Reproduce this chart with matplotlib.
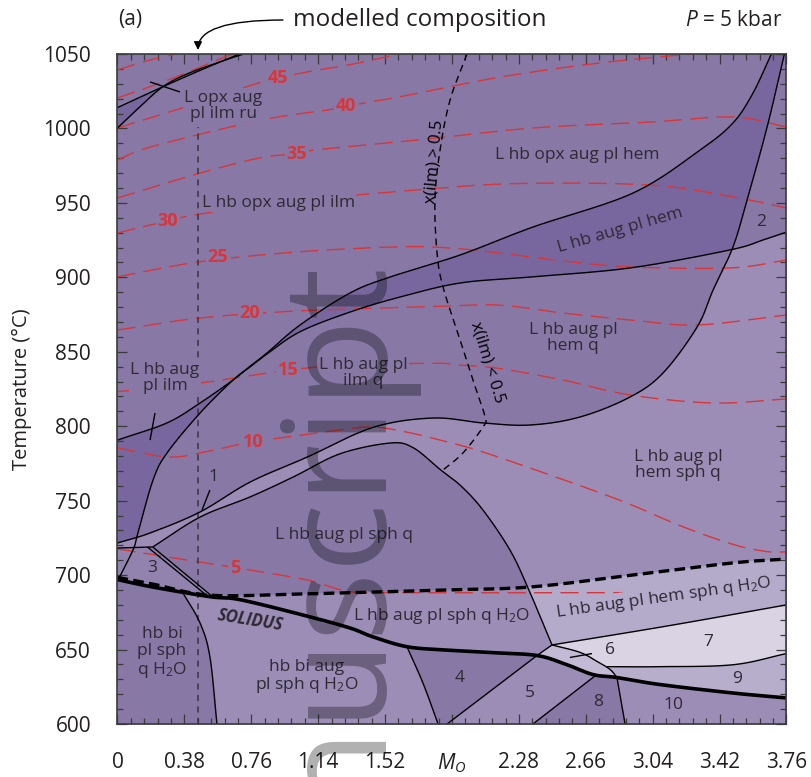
import numpy as np
import matplotlib
matplotlib.use("Agg")
import matplotlib.pyplot as plt

plt.rcParams['font.family'] = ['Open Sans', 'DejaVu Sans']
plt.rcParams['mathtext.fontset'] = 'custom'
plt.rcParams['mathtext.rm'] = 'Open Sans'
plt.rcParams['mathtext.it'] = 'Open Sans:italic'
plt.rcParams['mathtext.bf'] = 'Open Sans:bold'

# axes
x_ticks = [0, 0.38, 0.76, 1.14, 1.52, 1.90, 2.28, 2.66, 3.04, 3.42, 3.80]
x_ticklabels = ['0', '0.38', '0.76', '1.14', '1.52', '$M_O$', '2.28', '2.66', '3.04', '3.42', '3.76']
y_ticks = [600, 650, 700, 750, 800, 850, 900, 950, 1000, 1050]
modelled_x = 0.457

# phase boundaries as (M_O, T) pairs
solidus = [(0, 697), (0.2, 692), (0.525, 685.5), (0.696, 683.5), (1.06, 673), (1.32, 664.5),
           (1.451, 658.5), (1.644, 651.9), (1.85, 649.8), (2.12, 648), (2.383, 646),
           (2.553, 639.8), (2.701, 633.2), (2.837, 631.2), (3.081, 626.5), (3.496, 620.8),
           (3.8, 617.5)]
h2o_out = [(0, 698.5), (0.2, 694), (0.525, 686.5), (1.02, 687.3), (1.264, 688), (1.832, 690),
           (2.343, 692), (2.928, 700.1), (3.496, 708.2), (3.8, 710.8)]
line_ilm = [(0, 790.7), (0.281, 802.2), (0.469, 815.6), (0.656, 831), (0.75, 840),
            (0.849, 849.2), (1.037, 868), (1.321, 889.5), (1.548, 900.2), (1.946, 915),
            (2.360, 933.8), (2.928, 956.6), (3.309, 985.5), (3.496, 1003.7), (3.610, 1023.8),
            (3.706, 1048), (3.72, 1051)]
line_hem = [(0, 696), (0.088, 716.9), (0.116, 728.3), (0.202, 763.9), (0.281, 782),
            (0.469, 808.9), (0.656, 831), (0.75, 839.6), (0.849, 848.5), (1.037, 863.5),
            (1.321, 876.7), (1.605, 886.8), (1.946, 896.2), (2.343, 900.2), (2.911, 906.3),
            (3.479, 918.4), (3.667, 925.1), (3.8, 930.4)]
sph_in = [(0, 721.6), (0.185, 728.3), (0.469, 742.4), (0.753, 762.5), (1.078, 779.3),
          (1.451, 799.2), (1.792, 805.5), (2.076, 802.2), (2.343, 800.8), (2.627, 806.2),
          (2.911, 819.6), (3.099, 835.8), (3.292, 866.6), (3.383, 891.5), (3.496, 920.4),
          (3.576, 952), (3.690, 1001), (3.79, 1051)]
ilm_out = [(0.2, 718.9), (0.469, 739), (0.753, 752.5), (1.0, 766), (1.264, 781.5),
           (1.548, 788.7), (1.679, 785.6), (1.832, 771), (1.95, 760), (2.076, 743.7),
           (2.229, 716.9), (2.332, 691.3), (2.468, 653.1)]
opx_a = [(0, 1000.3), (0.127, 1014.5), (0.256, 1027.9), (0.395, 1036.6), (0.565, 1044),
         (0.713, 1049.9)]
opx_b = [(0, 1014), (0.256, 1027.9), (0.469, 1039), (0.69, 1049.9)]
bi_out = [(0.372, 688), (0.469, 667.8), (0.525, 645), (0.565, 600)]
line_4 = [(1.644, 651.9), (1.735, 627.5), (1.821, 600)]
line_45 = [(2.383, 646), (1.872, 600)]
line_58 = [(2.72, 633), (2.36, 600)]
line_810 = [(2.837, 631.2), (2.883, 600)]
arc_6 = [(2.468, 653.1), (2.627, 648.1), (2.724, 642), (2.798, 636.6), (2.837, 631.2)]
top_7 = [(2.468, 653.1), (3.121, 665.8), (3.8, 680)]
bot_7 = [(2.78, 638.5), (3.081, 638.5), (3.496, 639.8), (3.8, 647.3)]
field3_top = [(0, 718.2), (0.2, 718.9)]
field3_edge = [(0.17, 718.9), (0.51, 686)]
x_ilm = [(1.985, 1050), (1.889, 1019.1), (1.832, 985.5), (1.803, 952), (1.815, 916.3),
         (1.849, 893.5), (1.946, 857.9), (2.019, 831), (2.088, 806.2), (2.076, 799.5),
         (1.962, 782), (1.849, 770.6)]
leaders = [[(0.213, 808.9), (0.185, 790.7)], [(0.525, 757.2), (0.48, 743.7)],
           [(2.57, 644.7), (2.695, 647.3)], [(0.185, 1031.2), (0.355, 1024.5)]]

# melt isopleths (vol %)
iso_values = [5, 10, 15, 20, 25, 30, 35, 40, 45, 50, 55]
iso_lines = [
    [(0, 717.6), (0.667, 705), (0.753, 703.4), (1.078, 696.7), (1.32, 688.9), (1.6, 688.2), (2.93, 688.2)],
    [(0, 785.4), (0.281, 779.4), (0.469, 782), (0.753, 789.5), (0.883, 791.5), (1.264, 797.5),
     (1.451, 799.5), (1.644, 796), (1.832, 790.7), (2.076, 782.7), (2.570, 762.5), (2.894, 748.4),
     (3.2, 733), (3.5, 720.5), (3.689, 715.8), (3.8, 715.6)],
    [(0, 823.2), (0.469, 829), (1.133, 839.8), (1.775, 842.3), (1.946, 841), (2.156, 839),
     (2.531, 831), (2.911, 821), (3.383, 815.6), (3.8, 818.3)],
    [(0, 864.6), (0.469, 872.7), (1.037, 877.5), (1.775, 880.3), (2.156, 881.4), (2.531, 876),
     (2.911, 871.4), (3.292, 868), (3.8, 874.7)],
    [(0, 900.4), (0.469, 910.5), (1.037, 917.2), (1.6, 920.5), (1.889, 919.7), (2.156, 916.5),
     (2.531, 911), (2.911, 907), (3.479, 906.3), (3.8, 911.6)],
    [(0, 929.8), (0.287, 938), (0.469, 942.5), (1.037, 951.5), (1.70, 958.7), (2.269, 963),
     (3.025, 962), (3.496, 954), (3.8, 946.6)],
    [(0, 953.3), (0.469, 970), (0.82, 980.5), (1.02, 982.8), (1.12, 985.5), (1.70, 992.2),
     (2.36, 1000.3), (3.025, 1004.3), (3.496, 1007.7), (3.8, 1001)],
    [(0, 978.8), (0.2, 988), (0.82, 1005.7), (1.196, 1012.4), (1.30, 1015), (1.605, 1021.3),
     (2.173, 1034.5), (2.741, 1044), (3.252, 1050)],
    [(0, 1000.3), (0.4, 1015), (0.80, 1030.5), (0.913, 1033.9), (1.105, 1038.6), (1.31, 1042.6),
     (1.605, 1050)],
    [(0, 1020.4), (0.287, 1032.5), (0.61, 1048), (0.66, 1050)],
    [(0, 1039.3), (0.17, 1045.5), (0.33, 1050)],
]
iso_label_pos = [(0.667, 705), (0.77, 789.5), (0.97, 837.5), (0.753, 876), (0.571, 913.5),
                 (0.287, 938), (1.02, 983), (1.30, 1015), (0.913, 1034)]

MID = '#8778a6'
DARK = '#77679e'
LIGHT = '#9b8db6'
F3 = '#9183ae'
PALE = '#b4aaca'
PALE9 = '#b7aecc'
PALER = '#c3bbd5'
PALEST = '#d9d3e3'
RED = '#d8363a'
INK = '#2d2a33'

field_labels = [
    ("L opx aug\npl ilm ru", 0.60, 1015, 0, MID),
    ("L hb opx aug pl ilm", 0.913, 950, 0, MID),
    ("L hb opx aug pl hem", 2.61, 982, 0, MID),
    ("L hb aug pl hem", 2.855, 931.5, 16, DARK),
    ("2", 3.655, 937, 0, MID),
    ("L hb aug pl\nhem q", 2.587, 859.3, 0, MID),
    ("L hb aug\npl ilm", 0.27, 832.4, 0, MID),
    ("L hb aug pl\nilm q", 1.395, 835.7, 0, MID),
    ("L hb aug pl\nhem sph q", 3.185, 774, 0, LIGHT),
    ("1", 0.543, 766, 0, MID),
    ("L hb aug pl sph q", 1.287, 727, 0, MID),
    ("3", 0.196, 705, 0, F3),
    ("L hb aug pl sph q H$_2$O", 1.84, 672.6, 0, LIGHT),
    ("L hb aug pl hem sph q H$_2$O", 3.1, 684.6, 8, PALE),
    ("hb bi\npl sph\nq H$_2$O", 0.253, 647.7, 0, MID),
    ("hb bi aug\npl sph q H$_2$O", 1.075, 631.6, 0, LIGHT),
    ("4", 1.946, 631, 0, MID),
    ("5", 2.343, 621, 0, LIGHT),
    ("8", 2.73, 615, 0, MID),
    ("6", 2.80, 649.7, 0, PALEST),
    ("7", 3.355, 655, 0, PALEST),
    ("9", 3.52, 630, 0, PALE9),
    ("10", 3.155, 612.8, 0, LIGHT),
]


def smooth(c, n=16):
    # Catmull-Rom through the traced points
    p = np.asarray(c, dtype=float)
    if len(p) < 3:
        return p
    q = np.vstack([2 * p[0] - p[1], p, 2 * p[-1] - p[-2]])
    t = np.linspace(0, 1, n, endpoint=False)[:, None]
    out = []
    for i in range(1, len(q) - 2):
        p0, p1, p2, p3 = q[i - 1], q[i], q[i + 1], q[i + 2]
        out.append(0.5 * (2 * p1 + (p2 - p0) * t + (2 * p0 - 5 * p1 + 4 * p2 - p3) * t ** 2
                          + (3 * p1 - p0 - 3 * p2 + p3) * t ** 3))
    out.append(p[-1:])
    return np.vstack(out)


def xy(c):
    a = smooth(c)
    return a[:, 0], a[:, 1]


def interp_on(x, c):
    xs, ts = xy(c)
    if xs[0] > xs[-1]:
        xs, ts = xs[::-1], ts[::-1]
    return np.interp(x, np.maximum.accumulate(xs), ts)


def along(c, x0, x1, n=80):
    xx = np.linspace(x0, x1, n)
    return np.column_stack([xx, interp_on(xx, c)])


xg = np.linspace(0, 3.8, 3000)


def at(c):
    return interp_on(xg, c)


fig = plt.figure(figsize=(8.12, 7.77), dpi=100)
ax = fig.add_axes([117.5 / 812, 53 / 777, 669 / 812, 670 / 777])
ax.set_xlim(0, 3.8)
ax.set_ylim(600, 1050)
ax.set_facecolor(MID)

# supra-solidus fields
s_in = at(sph_in)
hi = np.where(xg > 3.0, np.minimum(s_in, at(line_hem)), s_in)
lo = at(h2o_out)
ax.fill_between(xg, lo, hi, where=hi > lo, color=LIGHT, lw=0, zorder=1)

lo = np.maximum(at(line_hem), s_in)
hi = at(line_ilm)
ax.fill_between(xg, lo, hi, where=hi > lo, color=DARK, lw=0, zorder=1)

a, b = at(opx_a), at(opx_b)
ax.fill_between(xg, a, b, where=(b > a) & (xg < 0.256), color=DARK, lw=0, zorder=1)

dome = np.vstack([along(ilm_out, 0.2, 2.332), along(h2o_out, 2.332, 0.54), [(0.2, 718.9)]])
ax.fill(dome[:, 0], dome[:, 1], color=MID, lw=0, zorder=1)

f3 = np.vstack([field3_top, [(0.525, 685.5)], along(solidus, 0.525, 0, 20)])
ax.fill(f3[:, 0], f3[:, 1], color=F3, lw=0, zorder=1)

# fluid-bearing fields
ax.fill_between(xg, at(solidus), at(h2o_out), color=LIGHT, lw=0, zorder=1)
hem = np.vstack([along(h2o_out, 2.332, 3.8), along(top_7, 3.8, 2.468), along(ilm_out, 2.468, 2.332, 20)])
ax.fill(hem[:, 0], hem[:, 1], color=PALE, lw=0, zorder=1)
f7 = np.vstack([along(top_7, 2.468, 3.8), along(bot_7, 3.8, 2.78), along(arc_6, 2.78, 2.468, 30)])
ax.fill(f7[:, 0], f7[:, 1], color=PALEST, lw=0, zorder=1)
f6 = np.vstack([[(2.468, 653.1)], along(solidus, 2.383, 2.837, 30), along(arc_6, 2.837, 2.468, 30)])
ax.fill(f6[:, 0], f6[:, 1], color=PALER, lw=0, zorder=1)
f9 = np.vstack([along(bot_7, 2.78, 3.8), along(solidus, 3.8, 2.837), along(arc_6, 2.837, 2.78, 10)])
ax.fill(f9[:, 0], f9[:, 1], color=PALE9, lw=0, zorder=1)

# sub-solidus fields
ax.fill_between(xg, 600, at(solidus), color=LIGHT, lw=0, zorder=1)
f_bi = np.vstack([[(0, 600)], along(solidus, 0, 0.372, 20), along(bi_out, 0.372, 0.565, 30), [(0.565, 600)]])
ax.fill(f_bi[:, 0], f_bi[:, 1], color=MID, lw=0, zorder=1)
f4 = np.vstack([along(line_4, 1.644, 1.821, 30), line_45[::-1], along(solidus, 2.383, 1.644, 30)])
ax.fill(f4[:, 0], f4[:, 1], color=MID, lw=0, zorder=1)
f8 = np.vstack([line_58, line_810[::-1], along(solidus, 2.837, 2.72, 10)])
ax.fill(f8[:, 0], f8[:, 1], color=MID, lw=0, zorder=1)

# isopleths
for pts in iso_lines:
    xs, ts = xy(pts)
    ax.plot(xs, ts, color=RED, lw=1.0, dashes=(13, 6), zorder=3)
for v, (xl, tl) in zip(iso_values, iso_label_pos):
    ax.text(xl, tl, str(v), color=RED, fontsize=13, fontweight='bold', ha='center', va='center',
            zorder=3.2, bbox=dict(boxstyle='square,pad=0.12', fc=MID, ec='none'))

# boundaries
for c in [line_ilm, line_hem, sph_in, ilm_out, opx_a, opx_b, bi_out, line_4, line_45,
          line_58, line_810, arc_6, top_7, bot_7, field3_top, field3_edge,
          [(0.2, 718.9), (0.54, 685.5)], [(2.468, 653.1), (2.383, 646)]] + leaders:
    xs, ts = xy(c)
    ax.plot(xs, ts, color='black', lw=1.0, zorder=4, solid_capstyle='butt')

xs, ts = xy(solidus)
ax.plot(xs, ts, color='black', lw=2.6, zorder=4.2, solid_capstyle='butt')
xs, ts = xy(h2o_out)
ax.plot(xs, ts, color='black', lw=2.4, dashes=(3.2, 1.6), zorder=4.1)
xs, ts = xy(x_ilm)
ax.plot(xs, ts, color='black', lw=1.0, dashes=(5, 3.5), zorder=4)
ax.plot([modelled_x, modelled_x], [600, 1001], color='#3a3440', lw=1.1, dashes=(4, 3.5), zorder=3)

for txt, xl, tl, rot, bg in field_labels:
    ax.text(xl, tl, txt, color=INK, fontsize=12.5, ha='center', va='center', rotation=rot,
            linespacing=1.05, zorder=3.5,
            bbox=dict(boxstyle='square,pad=0.08', fc=bg, ec='none'))
ax.text(1.8, 978, 'x(ilm) > 0.5', color='black', fontsize=12, rotation=85,
        ha='center', va='center', zorder=3.5)
ax.text(2.10, 843, 'x(ilm) < 0.5', color='black', fontsize=12, rotation=-73,
        ha='center', va='center', zorder=3.5)
ax.text(0.753, 670, 'SOLIDUS', color=INK, fontsize=12, fontweight='bold', style='italic',
        rotation=-9, ha='center', va='center', zorder=3.5)

# ticks
ax.set_xticks(x_ticks)
ax.set_xticklabels(x_ticklabels)
ax.set_xticks(np.arange(0, 3.81, 0.076), minor=True)
ax.set_yticks(y_ticks)
ax.set_yticks(np.arange(600, 1051, 10), minor=True)
ax.tick_params(which='both', direction='in', top=True, right=True, color='#3b3b3b', width=0.9,
               labelcolor='#231f20', labelsize=15)
ax.tick_params(which='major', length=7.5)
ax.tick_params(which='minor', length=4)
ax.tick_params(axis='x', pad=20)
ax.tick_params(axis='y', pad=19)
for sp in ax.spines.values():
    sp.set_linewidth(1.2)
    sp.set_color('#3b3b3b')
    sp.set_zorder(6)

ax.set_ylabel('Temperature (°C)', fontsize=14.5, color='#231f20')
ax.yaxis.set_label_coords(-0.128, 0.5)

# header
fig.text(118 / 812, 1 - 20 / 777, '(a)', fontsize=15, ha='left', va='center', color='#231f20')
fig.text(293 / 812, 1 - 20 / 777, 'modelled composition', fontsize=17.5, ha='left', va='center',
         color='#231f20')
fig.text(783 / 812, 1 - 20 / 777, '$P$ = 5 kbar', fontsize=15, ha='right', va='center',
         color='#231f20')
ax.annotate('', xy=(198, 777 - 50), xycoords='figure pixels', xytext=(283, 777 - 20),
            textcoords='figure pixels',
            arrowprops=dict(arrowstyle='-|>', connectionstyle='angle3,angleA=0,angleB=90',
                            color='black', lw=1.0, mutation_scale=12, shrinkA=0, shrinkB=0))

fig.text(373 / 812, 1 - 252 / 777, 'Manuscript', fontsize=104, rotation=90,
         rotation_mode='anchor', ha='right', va='baseline', color='black', alpha=0.31, zorder=10)

fig.savefig('out.png', dpi=100)
